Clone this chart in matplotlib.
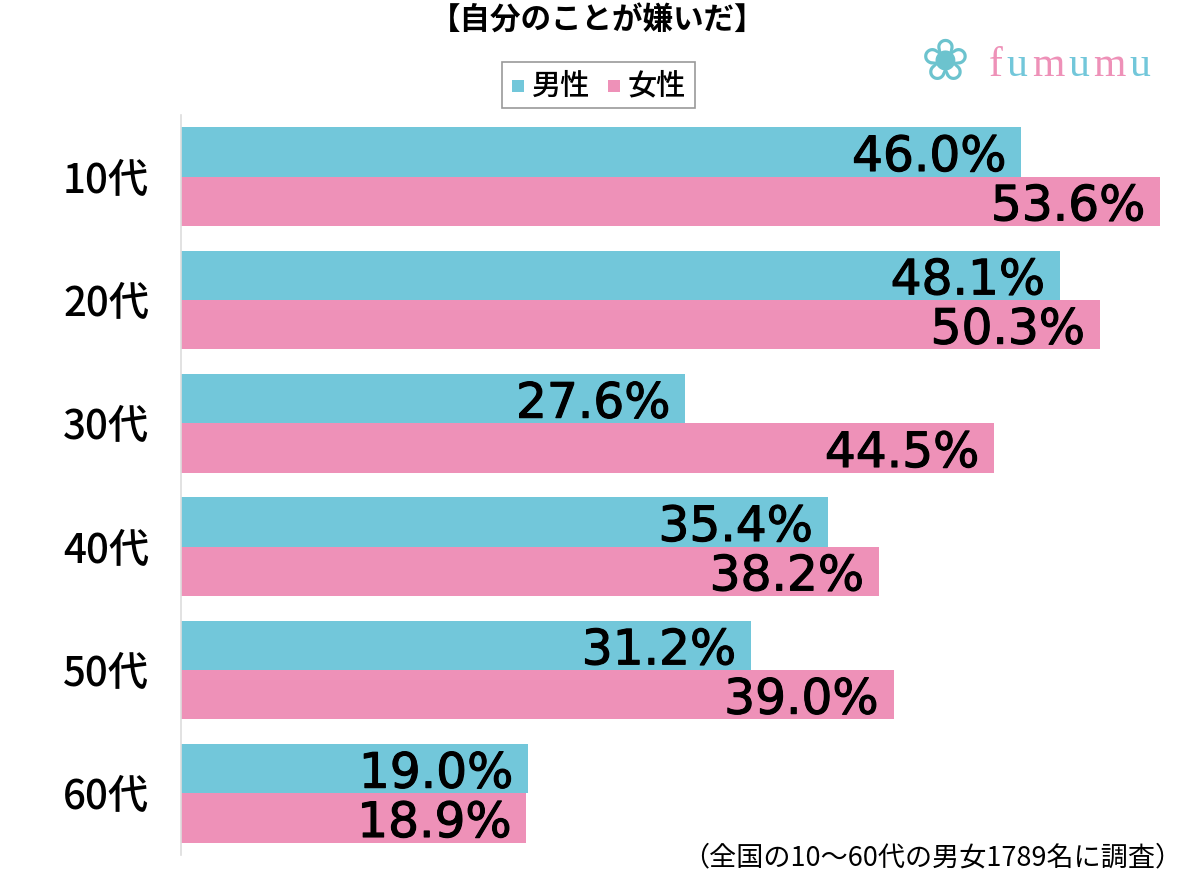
import matplotlib
matplotlib.use("Agg")
import matplotlib.pyplot as plt
import matplotlib.patheffects as pe
from matplotlib.patches import Rectangle

plt.rcParams['font.family'] = ['Noto Sans CJK JP', 'DejaVu Sans']

categories = ["10代", "20代", "30代", "40代", "50代", "60代"]
male = [46.0, 48.1, 27.6, 35.4, 31.2, 19.0]
female = [53.6, 50.3, 44.5, 38.2, 39.0, 18.9]
series_names = ["男性", "女性"]
title = "【自分のことが嫌いだ】"
footnote = "（全国の10〜60代の男女1789名に調査）"

male_color = "#72C7DA"
female_color = "#EE91B8"

W, H = 1200, 871
fig = plt.figure(figsize=(W / 100, H / 100), dpi=100)
ax_left, ax_right = 181, 1180
ax_top, ax_bottom = 115, 855
ax = fig.add_axes([ax_left / W, 1 - ax_bottom / H, (ax_right - ax_left) / W, (ax_bottom - ax_top) / H])

scale = 18.27  # px per percent
ax.set_xlim(0, (ax_right - ax_left) / scale)
ax.set_ylim(len(categories) - 0.5, -0.5)

y = list(range(len(categories)))
bh = 0.4
ax.barh([v - bh / 2 for v in y], male, height=bh, color=male_color, linewidth=0)
ax.barh([v + bh / 2 for v in y], female, height=bh, color=female_color, linewidth=0)

num_font = ['DejaVu Sans']
thick = [pe.withStroke(linewidth=0.8, foreground="black")]
for i in y:
    ax.annotate(f"{male[i]:.1f}%", (male[i], i - bh / 2), xytext=(-15, 0), textcoords="offset pixels",
                ha="right", va="center_baseline", fontsize=35, family=num_font, color="black",
                path_effects=thick)
    ax.annotate(f"{female[i]:.1f}%", (female[i], i + bh / 2), xytext=(-15, 0), textcoords="offset pixels",
                ha="right", va="center_baseline", fontsize=35, family=num_font, color="black",
                path_effects=thick)

ax.set_yticks(y)
ax.set_yticklabels(categories, fontsize=29, fontweight="medium")
ax.tick_params(axis="y", length=0, pad=23)
ax.set_xticks([])
for s in ["top", "right", "bottom"]:
    ax.spines[s].set_visible(False)
ax.spines["left"].set_color("#DDDDDD")
ax.spines["left"].set_linewidth(1.2)

# Title
fig.text(598 / W, 1 - 20 / H, title, ha="center", va="center", fontsize=22, fontweight="bold")

# Legend
leg_box = Rectangle((502 / W, 1 - 108 / H), (695 - 502) / W, (108 - 62) / H, transform=fig.transFigure,
                    facecolor="white", edgecolor="#999999", linewidth=1.2)
fig.patches.append(leg_box)
for name, col, x0 in [(series_names[0], male_color, 512), (series_names[1], female_color, 608)]:
    fig.patches.append(Rectangle((x0 / W, 1 - 92 / H), 12 / W, 12 / H, transform=fig.transFigure,
                                 facecolor=col, edgecolor="none"))
    fig.text((x0 + 20) / W, 1 - 86 / H, name, ha="left", va="center", fontsize=21, fontweight="medium")

# Logo
fig.text(945 / W, 1 - 64 / H, "❀", ha="center", va="center", fontsize=42, color="#6CC3CE",
         family=['DejaVu Sans'])
logo_colors = ["#EE91B8", "#72C7DA"]
renderer = fig.canvas.get_renderer()
fx = 989 / W
for k, ch in enumerate("fumumu"):
    t = fig.text(fx, 1 - 66 / H, ch, ha="left", va="center", fontsize=30,
                 color=logo_colors[k % 2], family=['Liberation Serif', 'DejaVu Serif'])
    bb = t.get_window_extent(renderer)
    fx = bb.x1 / W + 4 / W

# Footnote
fig.text(1182 / W, 1 - 858 / H, footnote, ha="right", va="center", fontsize=19.5)

fig.savefig("out.png", dpi=100, facecolor="white")
